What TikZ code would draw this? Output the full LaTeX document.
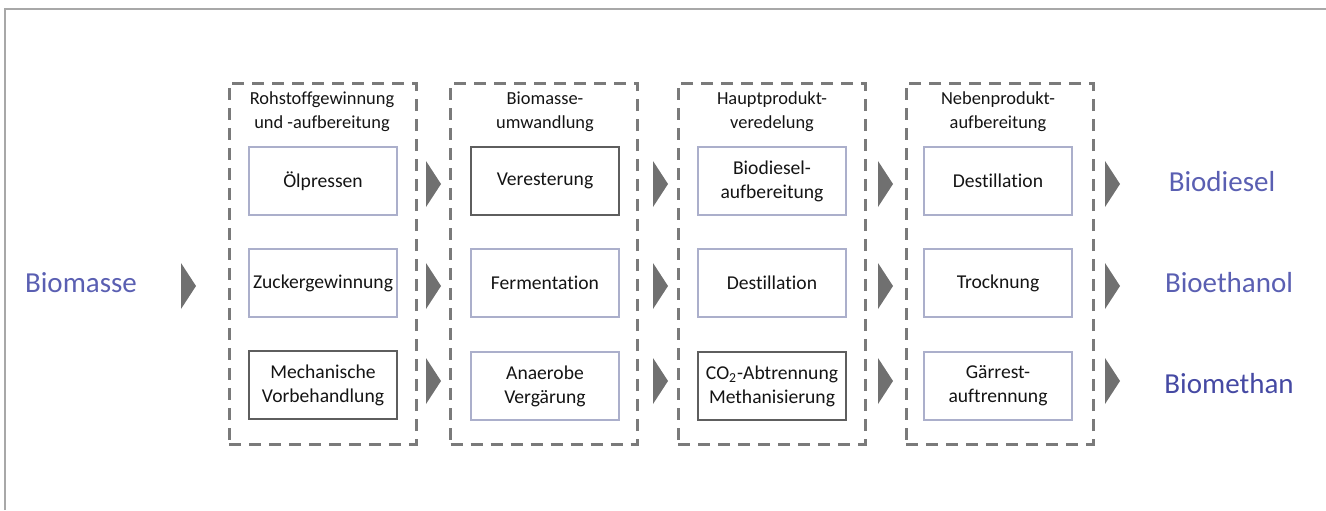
\documentclass[tikz,border=0pt]{standalone}
\usepackage{fontspec}
\setmainfont{Carlito}[Ligatures={NoCommon}]
\definecolor{frameg}{HTML}{A8A8A8}
\definecolor{dashg}{HTML}{7A7A7A}
\definecolor{trig}{HTML}{707070}
\definecolor{lightb}{HTML}{ABAFCB}
\definecolor{darkb}{HTML}{5E5E5E}
\definecolor{txt}{HTML}{141414}
\definecolor{blueA}{HTML}{5A5FB2}
\definecolor{blueB}{HTML}{4549A3}
\tikzset{
  stage/.style={draw=dashg, line width=1.5pt, dash pattern=on 6pt off 4pt, minimum width=93.5pt, minimum height=180.5pt, inner sep=0pt},
  stitle/.style={align=center, font=\fontsize{9.2}{12}\selectfont, text=txt, inner sep=0pt},
  procL/.style={draw=lightb, line width=0.8pt, minimum width=74pt, minimum height=34pt, align=center, inner sep=0pt, font=\fontsize{9.8}{12}\selectfont, text=txt},
  procD/.style={procL, draw=darkb, line width=1pt},
  prod/.style={font=\fontsize{14.5}{17}\selectfont, inner sep=0pt},
  tri/.pic={\fill[trig] (0,-23) -- (15,0) -- (0,23) -- cycle;}
}
\begin{document}
\begin{tikzpicture}[x=0.5pt,y=-0.5pt]
\useasboundingbox (0,0) rectangle (1326,510);
% frame
\coordinate (fTL) at (5,9);
\coordinate (fTR) at (1326,9);
\coordinate (fBL) at (5,510);
\draw[frameg, line width=0.8pt] (fBL) -- (fTL) -- (fTR);

% stages
\node[stage] (s1) at (322.5,263.5) {};
\node[stage] (s2) at (544,263.5) {};
\node[stage] (s3) at (771.5,263.5) {};
\node[stage] (s4) at (999.5,263.5) {};

\node[stitle] (t1) at (322,112) {Rohstoffgewinnung\\und -aufbereitung};
\node[stitle] (t2) at (545,112) {Biomasse-\\umwandlung};
\node[stitle] (t3) at (772,112) {Hauptprodukt-\\veredelung};
\node[stitle] (t4) at (998,112) {Nebenprodukt-\\aufbereitung};

% process boxes
\node[procL] (a1) at (323,181) {Ölpressen};
\node[procL] (a2) at (323,283) {Zuckergewinnung};
\node[procD] (a3) at (323,385) {Mechanische\\Vorbehandlung};

\node[procD] (b1) at (545,181) {Veresterung};
\node[procL] (b2) at (545,283) {Fermentation};
\node[procL] (b3) at (545,386) {Anaerobe\\Vergärung};

\node[procL] (c1) at (772,181) {Biodiesel-\\aufbereitung};
\node[procL] (c2) at (772,283) {Destillation};
\node[procD] (c3) at (772,386) {CO\textsubscript{2}-Abtrennung\\Methanisierung};

\node[procL] (d1) at (998,181) {Destillation};
\node[procL] (d2) at (998,283) {Trocknung};
\node[procL] (d3) at (998,386) {Gärrest-\\auftrennung};

% labels
\node[prod, text=blueA] (bm) at (81,283) {Biomasse};
\node[prod, text=blueA] (p1) at (1222,182) {Biodiesel};
\node[prod, text=blueA] (p2) at (1229,283) {Bioethanol};
\node[prod, text=blueB] (p3) at (1229,384) {Biomethan};

% arrow triangles
\pic (m0) at (181,286) {tri};
\foreach \x in {426,653,878,1105}{
  \pic at (\x,184) {tri};
  \pic at (\x,286) {tri};
  \pic at (\x,381) {tri};
}
\end{tikzpicture}
\end{document}
